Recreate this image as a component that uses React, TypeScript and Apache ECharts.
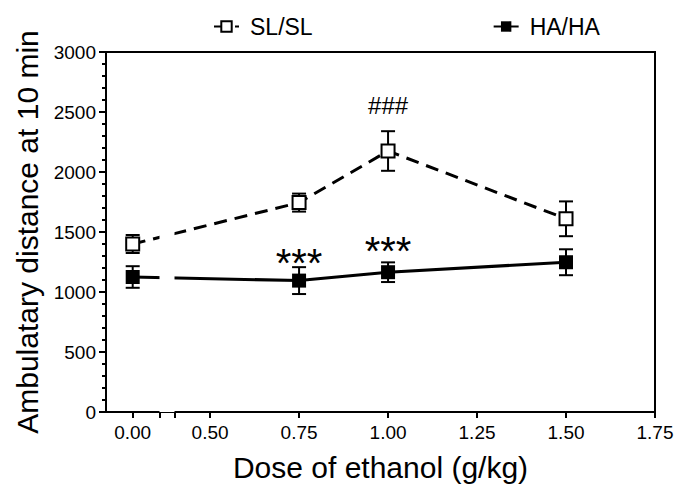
import React, { useEffect, useRef } from "react";
import * as echarts from "echarts";

// ---- data ----
const doses = [0, 0.75, 1.0, 1.5];
const slMean = [1400, 1745, 2175, 1610];
const slErr = [75, 75, 165, 145];
const haMean = [1125, 1095, 1165, 1248];
const haErr = [90, 112, 82, 108];
const slMarks = ["", "", "###", ""];
const haMarks = ["", "***", "***", ""];
const xLabelValues = [0, 0.5, 0.75, 1.0, 1.25, 1.5, 1.75];
const yTicks = [0, 500, 1000, 1500, 2000, 2500, 3000];
const seriesNames = ["SL/SL", "HA/HA"];
const xRange = [-0.075, 1.75];
const yRange = [0, 3000];
const xBreak = [0.075, 0.4];

const FONT = "Liberation Sans, Arial, Helvetica, sans-serif";

const GRID = { left: 106, right: 22, top: 52, bottom: 69 };
const W = 677;
const H = 487;

export default function App() {
  const ref = useRef<HTMLDivElement>(null);

  useEffect(() => {
    if (!ref.current) return;
    const chart = echarts.init(ref.current, undefined, { renderer: "svg" });

    const errRender = (params: any, api: any) => {
      const x = api.value(0);
      const m = api.value(1);
      const e = api.value(2);
      const top = api.coord([x, m + e]);
      const bot = api.coord([x, m - e]);
      const hw = 7;
      const style = { stroke: "#000", lineWidth: 2, fill: "none" };
      return {
        type: "group",
        children: [
          { type: "line", shape: { x1: top[0], y1: top[1], x2: bot[0], y2: bot[1] }, style },
          { type: "line", shape: { x1: top[0] - hw, y1: top[1], x2: top[0] + hw, y2: top[1] }, style },
          { type: "line", shape: { x1: bot[0] - hw, y1: bot[1], x2: bot[0] + hw, y2: bot[1] }, style },
        ],
      };
    };

    // frame edges as custom-series line elements, from the axes' extents
    const frameRender = (params: any, api: any) => {
      const tl = api.coord([xRange[0], yRange[1]]);
      const tr = api.coord([xRange[1], yRange[1]]);
      const br = api.coord([xRange[1], yRange[0]]);
      const style = { stroke: "#000", lineWidth: 2, fill: "none" };
      return {
        type: "group",
        children: [
          { type: "line", shape: { x1: tl[0], y1: tl[1], x2: tr[0], y2: tr[1] }, style },
          { type: "line", shape: { x1: tr[0], y1: tr[1], x2: br[0], y2: br[1] }, style },
        ],
      };
    };

    const markLabel = (txt: string, size: number, dist: number) =>
      txt
        ? {
            show: true,
            position: "top",
            distance: dist,
            formatter: txt,
            fontSize: size,
            fontFamily: FONT,
            color: "#000",
          }
        : { show: false };

    const slData = doses.map((d, i) => ({
      value: [d, slMean[i]],
      label: markLabel(slMarks[i], 24, 26),
    }));
    const haData = doses.map((d, i) => ({
      value: [d, haMean[i]],
      label: markLabel(haMarks[i], 40, i === 1 ? -9 : -6),
    }));

    const axisLineStyle = { color: "#000", width: 2 };

    const option: any = {
      animation: false,
      backgroundColor: "#fff",
      textStyle: { fontFamily: FONT },
      legend: {
        data: seriesNames,
        left: 208,
        top: 10,
        itemGap: 180,
        itemWidth: 25,
        itemHeight: 13,
        textStyle: { fontSize: 23, color: "#000", fontFamily: FONT, padding: [0, 0, 0, 6] },
      },
      grid: [
        {
          left: GRID.left,
          right: GRID.right,
          top: GRID.top,
          bottom: GRID.bottom,
          show: true,
          borderColor: "#000",
          borderWidth: 2,
          backgroundColor: "transparent",
        },
      ],
      xAxis: [
        {
          type: "value",
          position: "bottom",
          min: xRange[0],
          max: xRange[1],
          breaks: [{ start: xBreak[0], end: xBreak[1], gap: "2.75%" }],
          breakArea: {
            show: true,
            itemStyle: { color: "#fff", borderColor: "#fff", borderWidth: 0, opacity: 1 },
            zigzagAmplitude: 0,
            zigzagZ: 50,
            expandOnClick: false,
          },
          axisLine: { show: true, onZero: false, lineStyle: axisLineStyle },
          axisTick: {
            show: true,
            length: 6,
            customValues: [...xLabelValues, ...xBreak],
            lineStyle: axisLineStyle,
          },
          axisLabel: {
            customValues: xLabelValues,
            formatter: (v: number) => v.toFixed(2),
            fontSize: 19,
            color: "#000",
            margin: 11,
            fontFamily: FONT,
          },
          splitLine: { show: false },
          name: "Dose of ethanol (g/kg)",
          nameLocation: "middle",
          nameGap: 40,
          nameTextStyle: { fontSize: 30, color: "#000", fontFamily: FONT },
        },
      ],
      yAxis: [
        {
          type: "value",
          position: "left",
          min: yRange[0],
          max: yRange[1],
          interval: 500,
          axisLine: { show: true, onZero: false, lineStyle: axisLineStyle },
          axisTick: { show: true, length: 7, lineStyle: axisLineStyle },
          minorTick: { show: true, splitNumber: 5, length: 4, lineStyle: axisLineStyle },
          axisLabel: {
            fontSize: 19,
            color: "#000",
            margin: 10,
            fontFamily: FONT,
            formatter: (v: number) => (yTicks.includes(v) ? String(v) : ""),
          },
          splitLine: { show: false },
          name: "Ambulatary distance at 10 min",
          nameLocation: "middle",
          nameGap: 59,
          nameTextStyle: { fontSize: 30, color: "#000", fontFamily: FONT },
        },
      ],
      series: [
        {
          type: "custom",
          name: "slErr",
          renderItem: errRender,
          encode: { x: 0, y: 1 },
          data: doses.map((d, i) => [d, slMean[i], slErr[i]]),
          z: 1,
          silent: true,
        },
        {
          type: "custom",
          name: "haErr",
          renderItem: errRender,
          encode: { x: 0, y: 1 },
          data: doses.map((d, i) => [d, haMean[i], haErr[i]]),
          z: 1,
          silent: true,
        },
        {
          type: "custom",
          name: "frame",
          renderItem: frameRender,
          encode: { x: 0, y: 1 },
          data: [[doses[3], slMean[3]]],
          z: 60,
          silent: true,
        },
        {
          type: "line",
          name: seriesNames[0],
          data: slData,
          symbol: "rect",
          symbolSize: 13,
          lineStyle: { color: "#000", width: 3, type: [13, 8] },
          itemStyle: { color: "#fff", borderColor: "#000", borderWidth: 2 },
          z: 3,
        },
        {
          type: "line",
          name: seriesNames[1],
          data: haData,
          symbol: "rect",
          symbolSize: 14,
          lineStyle: { color: "#000", width: 3 },
          itemStyle: { color: "#000", borderColor: "#000", borderWidth: 0 },
          z: 3,
        },
      ],
    };

    chart.setOption(option);
    return () => chart.dispose();
  }, []);

  return (
    <div
      ref={ref}
      style={{ position: "fixed", left: 0, top: 0, width: W, height: H, background: "#fff" }}
    />
  );
}
